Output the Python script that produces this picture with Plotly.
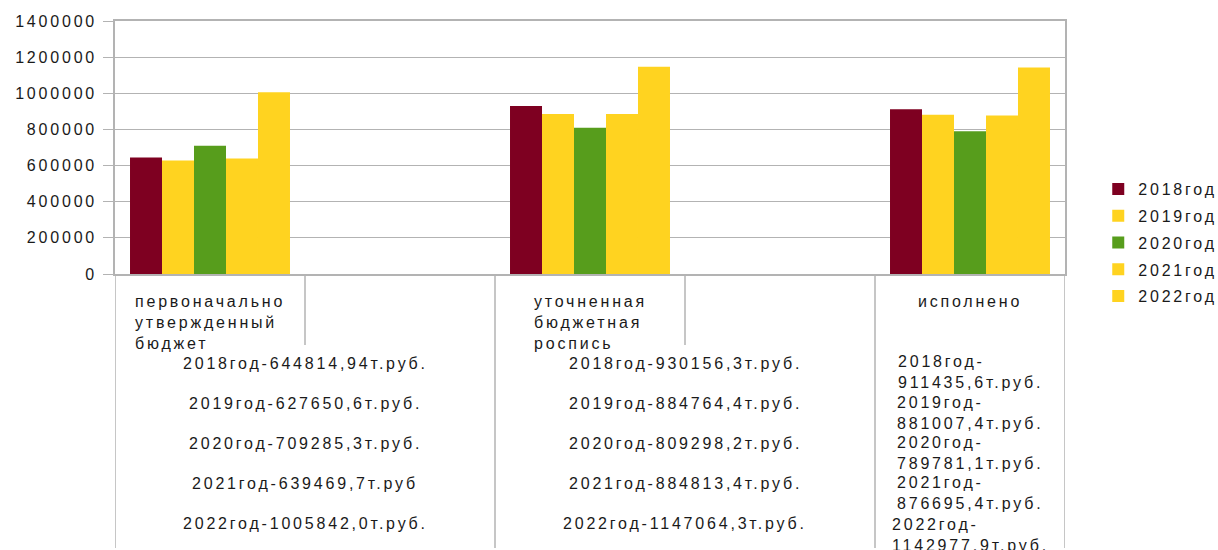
import plotly.graph_objects as go

# ---------------- data ----------------
categories = ["первоначально<br>утвержденный<br>бюджет", "уточненная<br>бюджетная<br>роспись", "исполнено"]
cat_pos = [0, 2, 4]
series_names = ["2018год", "2019год", "2020год", "2021год", "2022год"]
series_colors = ["#7E0021", "#FFD320", "#579D1C", "#FFD320", "#FFD320"]
values_2018 = [644814.94, 930156.3, 911435.6]
values_2019 = [627650.6, 884764.4, 881007.4]
values_2020 = [709285.3, 809298.2, 789781.1]
values_2021 = [639469.7, 884813.4, 876695.4]
values_2022 = [1005842.0, 1147064.3, 1142977.9]
series_values = [values_2018, values_2019, values_2020, values_2021, values_2022]

labels_group1 = ["2018год-644814,94т.руб.", "2019год-627650,6т.руб.", "2020год-709285,3т.руб.",
                 "2021год-639469,7т.руб", "2022год-1005842,0т.руб."]
labels_group2 = ["2018год-930156,3т.руб.", "2019год-884764,4т.руб.", "2020год-809298,2т.руб.",
                 "2021год-884813,4т.руб.", "2022год-1147064,3т.руб."]
labels_group3 = ["2018год-<br>911435,6т.руб.", "2019год-<br>881007,4т.руб.", "2020год-<br>789781,1т.руб.",
                 "2021год-<br>876695,4т.руб.", "2022год-<br>1142977,9т.руб."]

y_ticks = [0, 200000, 400000, 600000, 800000, 1000000, 1200000, 1400000]

# ---------------- layout helpers ----------------
W, H = 1218, 550
L, R, T, B = 115, 1065, 21, 274
FONT = "Liberation Sans, Arial, sans-serif"
FS = 16
TXT = "#1a1a1a"
GRID = "#b3b3b3"


def py(px):
    return (B - px) / (B - T)


fig = go.Figure()
for name, col, vals in zip(series_names, series_colors, series_values):
    fig.add_trace(go.Bar(x=cat_pos, y=vals, name=name, marker=dict(color=col, line=dict(width=0)),
                         legendgroup=name))

annotations = []
for x, lab in zip(cat_pos, categories):
    annotations.append(dict(x=x, xref="x", y=py(291), yref="paper", text=lab, showarrow=False,
                            xanchor="center", yanchor="top", align="left",
                            font=dict(family=FONT, size=FS, color=TXT)))
row_y = [363, 403, 443, 483, 523]
for lab, yy in zip(labels_group1, row_y):
    annotations.append(dict(x=0.5, xref="x", y=py(yy), yref="paper", text=lab, showarrow=False,
                            xanchor="center", yanchor="middle", font=dict(family=FONT, size=FS, color=TXT)))
for lab, yy in zip(labels_group2, row_y):
    annotations.append(dict(x=2.5, xref="x", y=py(yy), yref="paper", text=lab, showarrow=False,
                            xanchor="center", yanchor="middle", font=dict(family=FONT, size=FS, color=TXT)))
row_y3 = [372, 413, 453, 493, 535]
for lab, yy in zip(labels_group3, row_y3):
    annotations.append(dict(x=4, xref="x", y=py(yy), yref="paper", text=lab, showarrow=False,
                            xanchor="center", yanchor="middle", align="left",
                            font=dict(family=FONT, size=FS, color=TXT)))

shapes = []
for x, bottom in [(-0.5, 548), (0.5, 345), (1.5, 548), (2.5, 345), (3.5, 548), (4.5, 548)]:
    shapes.append(dict(type="line", xref="x", yref="paper", x0=x, x1=x, y0=0, y1=py(bottom),
                       line=dict(color=GRID, width=1.5)))

fig.update_layout(
    width=W, height=H,
    margin=dict(l=L, r=W - R, t=T, b=H - B, pad=0, autoexpand=False),
    paper_bgcolor="white", plot_bgcolor="white",
    barmode="group", bargap=0.579, bargroupgap=0,
    font=dict(family=FONT, size=FS, color=TXT),
    showlegend=True,
    legend=dict(x=1.035, xanchor="left", y=py(172), yanchor="top",
                font=dict(family=FONT, size=FS, color=TXT), tracegroupgap=3,
                bgcolor="rgba(0,0,0,0)", borderwidth=0),
    xaxis=dict(range=[-0.5, 4.5], showticklabels=False, ticks="", showgrid=False, zeroline=False,
               showline=True, mirror=True, linecolor=GRID, linewidth=1.5),
    yaxis=dict(range=[0, 1400000], tickvals=y_ticks, ticktext=[str(v) for v in y_ticks],
               showgrid=True, gridcolor=GRID, gridwidth=1, zeroline=False,
               ticks="outside", ticklen=10, tickcolor=GRID, ticklabelstandoff=3,
               showline=True, mirror=True, linecolor=GRID, linewidth=1.5,
               tickfont=dict(family=FONT, size=FS, color=TXT)),
    annotations=annotations, shapes=shapes,
)

# Re-render once with letter spacing active (font string changed so text sizes are re-measured)
post = """
document.body.style.margin='0';
document.body.style.padding='0';
var s=document.createElement('style');
s.textContent='svg text{letter-spacing:2.8px;}';
document.head.appendChild(s);
var gd=document.getElementById('{plot_id}');
var lay=JSON.parse(JSON.stringify(gd.layout).split('Arial').join('Helvetica'));
var dat=JSON.parse(JSON.stringify(gd.data));
Plotly.newPlot(gd, dat, lay, {displayModeBar:false, responsive:false});
"""
fig.write_html("out.html", post_script=post, config={"displayModeBar": False})
